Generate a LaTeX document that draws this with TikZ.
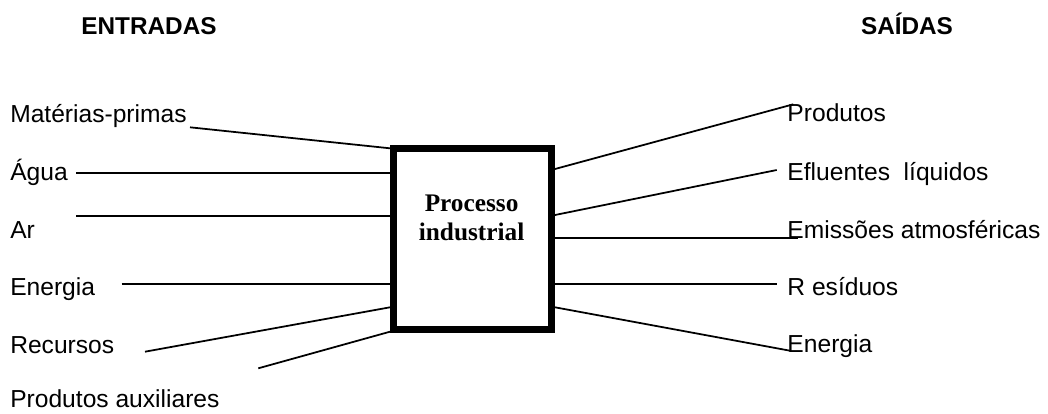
\documentclass[tikz,border=0pt]{standalone}
\usepackage{fontspec}
\setmainfont{Liberation Sans}
\newfontfamily\procfont{Liberation Serif}
\usepackage{tikz}
\usetikzlibrary{positioning, calc}

\tikzset{
  rotulo/.style={anchor=base west, inner sep=0pt, font=\fontsize{17.5}{20}\selectfont},
  titulo/.style={anchor=base, inner sep=0pt, font=\fontsize{17.3}{20}\selectfont\bfseries},
  fio/.style={line width=1.25pt},
  caixa/.style={draw, line width=0.175cm, minimum width=3.95cm, minimum height=4.5175cm}
}

\begin{document}
\begin{tikzpicture}
    \useasboundingbox (0,0) rectangle (26.2,-10.325);

    % titulos
    \node[titulo] (entradas) at (3.725,-0.85) {ENTRADAS};
    \node[titulo] (saidas) at (22.675,-0.85) {SAÍDAS};

    % processo
    \node[caixa] (proc) at (11.8125,-5.9725) {};
    \node[align=center, inner sep=0pt, font=\fontsize{18}{20.3}\selectfont\procfont\bfseries] (proctxt) at (11.79,-5.44) {Processo\\industrial};

    % entradas
    \node[rotulo] (mp) at (0.25,-3.0575) {Matérias-primas};
    \node[rotulo] (agua) at (0.25,-4.5) {Água};
    \node[rotulo] (ar) at (0.25,-5.95) {Ar};
    \node[rotulo] (enin) at (0.25,-7.375) {Energia};
    \node[rotulo] (rec) at (0.25,-8.825) {Recursos};
    \node[rotulo] (aux) at (0.25,-10.175) {Produtos auxiliares};

    \coordinate (mp-f) at (4.75,-3.1825);
    \coordinate (agua-f) at (1.9,-4.325);
    \coordinate (ar-f) at (1.9,-5.4);
    \coordinate (enin-f) at (3.0425,-7.1);
    \coordinate (rec-f) at (3.625,-8.7925);
    \coordinate (aux-f) at (6.4575,-9.2075);

    \draw[fio] (mp-f) -- (proc.west |- 0,-3.7075);
    \draw[fio] (agua-f) -- (proc.west |- agua-f);
    \draw[fio] (ar-f) -- (proc.west |- ar-f);
    \draw[fio] (enin-f) -- (proc.west |- enin-f);
    \draw[fio] (rec-f) -- (proc.west |- 0,-7.6825);
    \draw[fio] (aux-f) -- (proc.west |- 0,-8.2925);

    % saidas
    \node[rotulo] (prod) at (19.68,-3.0425) {Produtos};
    \node[rotulo] (eflu) at (19.68,-4.5) {Efluentes\ \ líquidos};
    \node[rotulo] (emis) at (19.68,-5.9575) {Emissões atmosféricas};
    \node[rotulo] (resid) at (19.68,-7.375) {R esíduos};
    \node[rotulo] (enout) at (19.68,-8.8175) {Energia};

    \coordinate (prod-f) at (19.8325,-2.6075);
    \coordinate (eflu-f) at (19.4175,-4.25);
    \coordinate (emis-f) at (19.9575,-5.95);
    \coordinate (resid-f) at (19.4175,-7.1);
    \coordinate (enout-f) at (19.75,-8.7675);

    \draw[fio] (proc.east |- 0,-4.225) -- (prod-f);
    \draw[fio] (proc.east |- 0,-5.375) -- (eflu-f);
    \draw[fio] (proc.east |- emis-f) -- (emis-f);
    \draw[fio] (proc.east |- resid-f) -- (resid-f);
    \draw[fio] (proc.east |- 0,-7.6825) -- (enout-f);
  \end{tikzpicture}
\end{document}
